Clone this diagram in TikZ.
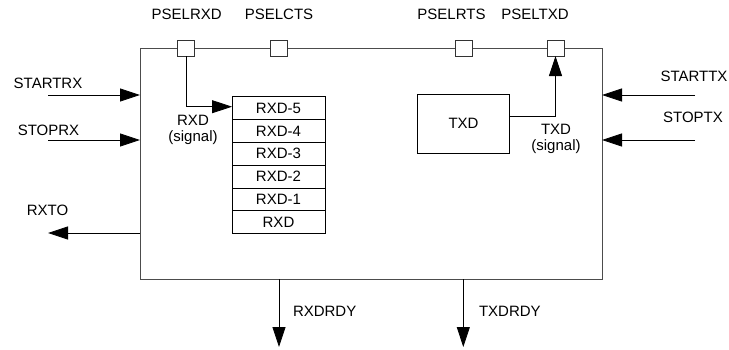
\documentclass[tikz,border=0pt]{standalone}
\usepackage{fontspec}
\setmainfont{Liberation Sans}
\usetikzlibrary{arrows.meta}
\begin{document}
\begin{tikzpicture}[x=1pt,y=-1pt,
  every node/.style={font=\fontsize{15}{16}\selectfont, inner sep=0, outer sep=0},
  lbl/.style={align=center},
  pin/.style={draw=black!80, fill=white, line width=0.8pt, minimum width=17, minimum height=16},
  cell/.style={draw=black, line width=0.8pt, minimum width=93, minimum height=22.8, anchor=north west},
  arr/.style={draw=black, line width=0.8pt, -{Triangle[length=20pt,width=13pt]}},
  wire/.style={draw=black, line width=0.8pt}]
\useasboundingbox (0,0) rectangle (729,349);
\fill[white] (0,0) rectangle (729,349);
% main block
\node[draw=black!70, line width=0.9pt, minimum width=462, minimum height=231, anchor=north west] (main) at (140,48) {};
% pins on top edge
\node[pin] (prxd) at (186,48) {};
\node[pin] (pcts) at (278.5,48) {};
\node[pin] (prts) at (463.7,48) {};
\node[pin] (ptxd) at (555.5,48) {};
\node[lbl] (lprxd) at (186.7,14) {PSELRXD};
\node[lbl] (lpcts) at (279,14) {PSELCTS};
\node[lbl] (lprts) at (451.5,14) {PSELRTS};
\node[lbl] (lptxd) at (535,14) {PSELTXD};
% RXD stack
\node[cell] (r5) at (232,96.7) {RXD-5};
\node[cell] (r4) at (r5.south west) {RXD-4};
\node[cell] (r3) at (r4.south west) {RXD-3};
\node[cell] (r2) at (r3.south west) {RXD-2};
\node[cell] (r1) at (r2.south west) {RXD-1};
\node[cell] (r0) at (r1.south west) {RXD};
% TXD box
\node[draw=black, line width=0.8pt, minimum width=92.4, minimum height=59, anchor=north west] (txd) at (417.3,94.3) {TXD};
% RXD signal
\coordinate (rxbend) at (186,106.7);
\draw[arr] (prxd.south) -- (rxbend) -- (r5.west |- rxbend);
\node[lbl] (lrxs) at (193,130) {RXD\\(signal)};
% TXD signal
\coordinate (txout) at (txd.east |- 0,116.7);
\draw[arr] (txout) -- (ptxd.south |- txout) -- (ptxd.south);
\node[lbl] (ltxs) at (556,139) {TXD\\(signal)};
% left inputs
\coordinate (srx) at (48,95);
\coordinate (sprx) at (48,140);
\draw[arr] (srx) -- (main.west |- srx);
\draw[arr] (sprx) -- (main.west |- sprx);
\node (lsrx) at (48,83.5) {STARTRX};
\node (lsprx) at (48.5,130) {STOPRX};
% right inputs
\coordinate (stx) at (695,95);
\coordinate (sptx) at (695,140);
\draw[arr] (stx) -- (main.east |- stx);
\draw[arr] (sptx) -- (main.east |- sptx);
\node (lstx) at (694,76.7) {STARTTX};
\node (lsptx) at (693,117) {STOPTX};
% RXTO
\coordinate (rxto) at (48,233);
\draw[arr] (main.west |- rxto) -- (rxto);
\node (lrxto) at (47.5,210) {RXTO};
% bottom outputs
\coordinate (rdy1) at (279,347);
\coordinate (rdy2) at (463.3,347);
\draw[arr] (main.south -| rdy1) -- (rdy1);
\draw[arr] (main.south -| rdy2) -- (rdy2);
\node[anchor=west] (lrdy1) at (293,311) {RXDRDY};
\node[anchor=west] (lrdy2) at (479,311) {TXDRDY};
\end{tikzpicture}
\end{document}
